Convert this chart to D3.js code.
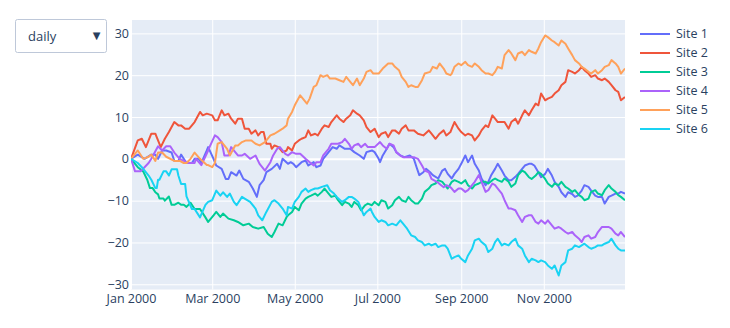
<!DOCTYPE html>
<html>
<head>
<meta charset="utf-8">
<script src="https://cdn.jsdelivr.net/npm/d3@7"></script>
<style>
  html, body { margin: 0; padding: 0; background: #fff; }
  svg { display: block; font-family: "Open Sans", verdana, arial, sans-serif; }
</style>
</head>
<body>
<svg id="chart" width="730" height="328"></svg>
<script>
// Readings for six sites through 2000: each entry is [day of year (0 = Jan 1), value]
const startDate = new Date(Date.UTC(2000, 0, 1));
const endDate = new Date(Date.UTC(2000, 11, 31));

const seriesNames = ["Site 1", "Site 2", "Site 3", "Site 4", "Site 5", "Site 6"];
const seriesColors = ["#636efa", "#EF553B", "#00cc96", "#ab63fa", "#FFA15A", "#19d3f3"];

const site1 = [
  [0,0],[5,1],[10,0],[15,1],[18,1],[20,0],[23,2],[26,2],[30,1.5],[32,-0.5],[35,-0.5],[37,1],[41,-1],[45,-1],[47,0],[50,0],[52,-1],[56,2],
  [57,2.8],[61,0],[63,-1.6],[67,-2.4],[70,-4.8],[72,-4.8],[74,-3.2],[78,-4],[80,-2.8],[83,-4.8],[87,-5.5],[90,-7.1],[93,-9.1],[95,-6.3],[98,-5.1],[100,-3.2],[104,-2.4],[108,-1.2],[110,-2.4],[112,0],[116,-1.2],
  [118,-0.8],[120,-1.2],[122,-2],[126,-0.8],[129,-0.4],[131,-1.6],[135,-0.8],[137,-2],[140,-1.6],[142,0],[146,1.6],[149,2.8],[152,2.4],[154,3.2],[158,2.4],[162,2.4],[165,1.6],[169,0.8],[172,0],[174,1.6],
  [178,2],[180,1.6],[183,0],[184,-0.8],[186,0.8],[189,2.4],[191,3.6],[194,2.8],[196,1.6],[199,0.8],[202,0.4],[206,0.8],[209,0],[211,-2],[213,-3.9],[216,-3.2],[218,-2.4],[221,-3.2],[223,-3.9],[227,-4.7],[230,-2.8],[232,-2.4],[234,-3.6],
  [237,-4.7],[239,-3.6],[242,-2.4],[244,-1.2],[247,0.8],[249,-0.8],[252,0.8],[254,-1.2],[257,-2.8],[259,-4.7],[262,-6.3],[264,-5.5],[266,-4],[269,-2.4],[271,-1.2],[274,-2.8],[276,-4],[279,-5.1],[281,-5.1],[284,-4.3],[286,-3.6],[289,-2.4],[291,-1.6],[294,-1.2],
  [296,-1.2],[298,-1.6],[301,-3.2],[303,-4.4],[306,-3.6],[308,-2.4],[311,-4],[313,-5.5],[316,-6.7],[318,-8],[321,-9.1],[323,-8],[326,-8.4],[328,-9.1],[330,-8.8],[333,-7.6],[335,-6.3],[338,-6.7],[340,-7.6],[343,-8.8],[345,-9.1],[348,-9.1],[350,-10.7],[353,-9.1],[355,-8.8],[358,-8.3],[360,-8.3],[362,-7.9],[365,-8.3]
];
const site2 = [
  [0,0],[5,4.4],[8,4.8],[11,2.8],[15,6],[18,6],[19,5.2],[22,2.8],[25,4.8],[28,6.4],[32,8.8],[35,8],[37,8],[40,7.2],[43,7.2],[45,8],[47,8.8],[51,11.2],[53,10.4],[56,10.8],
  [60,10.4],[62,9.2],[64,9.2],[67,11.6],[69,10.4],[72,10.8],[74,9.6],[77,8.4],[79,9.6],[82,9.6],[84,7.2],[87,7.2],[89,6],[92,6.8],[94,5.6],[96,6.4],[98,6.4],[100,3.6],[103,3.6],[104,2.4],[106,3.2],[109,2.8],[112,1.6],[115,2],
  [116,2.8],[119,2],[121,3.6],[124,4.4],[126,4.8],[129,5.2],[131,6.8],[133,5.6],[136,6],[138,5.6],[141,7.2],[143,8],[146,7.6],[148,8.8],[152,10.4],[154,9.6],[157,8.8],[159,9.6],[162,10.4],[164,11.6],[167,10.8],[169,10.4],[172,9.2],[174,7.6],[177,6.4],
  [180,7.2],[183,5.2],[185,6],[188,6.4],[190,5.2],[193,6.8],[195,6.8],[198,6],[200,7.2],[203,8],[205,6.8],[209,6.8],[212,6],[216,5.6],[220,6.8],[222,6],[225,4.8],[228,6],[231,6.8],[233,5.6],[236,6.4],
  [237,7.2],[239,8.8],[242,7.2],[244,6.4],[247,5.6],[249,6],[252,5.6],[254,4.4],[257,5.6],[259,6.8],[262,8],[264,7.6],[267,10.4],[269,9.6],[271,8.8],[274,8.8],[276,8.8],[279,7.2],[281,8.8],[284,9.6],[286,8.4],[289,10.4],[291,11.6],[294,10.4],
  [296,11.6],[299,13.2],[301,12.8],[303,15.6],[306,14],[308,14.4],[311,14.8],[313,15.6],[316,16.4],[318,17.6],[321,18.4],[323,21.2],[326,20.8],[328,20.4],[331,21.2],[333,22],[335,21.2],[338,20.4],[340,19.6],[343,20],[345,19.2],[348,18.8],[350,19.2],[353,18.4],[355,17.6],[358,16.4],[360,16],[362,14],[365,14.8]
];
const site3 = [
  [0,0],[5,-2],[9,-3],[12,-5],[14,-7],[16,-7],[18,-8],[20,-8.5],[21,-9.5],[24,-9.5],[25,-10],[28,-9],[30,-11],[32,-11],[35,-10.5],[37,-11],[39,-11],[41,-11.5],[44,-10.5],[47,-12],[51,-12],[55,-14],
  [57,-15.1],[61,-13.5],[63,-12.7],[66,-13.9],[68,-13.1],[72,-14.3],[76,-14.7],[79,-15.1],[83,-15.9],[87,-15.5],[90,-16.3],[94,-16.7],[98,-16.3],[101,-17.9],[104,-18.7],[106,-17.5],[109,-15.5],[112,-15.9],[115,-13.9],
  [116,-13.5],[119,-12.7],[121,-11.5],[124,-12.3],[126,-10.7],[129,-9.5],[131,-9.1],[133,-8.8],[136,-8.3],[138,-8.8],[141,-7.9],[143,-7.1],[146,-8.3],[148,-9.1],[151,-8.8],[153,-9.9],[156,-11.1],[158,-10.3],[161,-10.7],[163,-11.5],[165,-10.3],[168,-11.1],[170,-12.3],[173,-11.1],[175,-10.7],
  [178,-11.1],[180,-10.3],[183,-11.1],[185,-9.9],[188,-10.3],[190,-11.9],[193,-11.1],[195,-9.9],[198,-9.1],[200,-9.9],[203,-10.3],[205,-9.1],[207,-9.9],[210,-10.7],[212,-10.7],[215,-9.5],[217,-7.9],[220,-7.1],[222,-6.3],[225,-5.9],[227,-5.1],[230,-5.5],[232,-6.3],[234,-7.1],
  [237,-5.5],[239,-5.1],[242,-5.5],[244,-5.9],[247,-5.1],[249,-6.3],[252,-7.1],[254,-6.3],[257,-5.9],[259,-5.5],[262,-5.5],[264,-5.9],[267,-5.1],[269,-4.7],[271,-5.1],[274,-5.5],[276,-4.7],[279,-5.5],[281,-6.7],[284,-5.9],[286,-3.9],[289,-2.8],[291,-3.2],[294,-4.4],
  [296,-4.8],[299,-4],[301,-3.2],[303,-3.6],[306,-4.8],[308,-5.9],[311,-6.7],[313,-5.9],[316,-6.3],[318,-5.5],[321,-6.7],[323,-7.1],[326,-7.9],[328,-7.5],[331,-8.7],[333,-9.1],[335,-9.9],[338,-9.5],[340,-7.9],[343,-7.5],[345,-8.3],[348,-8.7],[350,-7.5],[353,-6.3],[355,-7.1],[358,-7.9],[360,-8.7],[362,-9.1],[365,-9.9]
];
const site4 = [
  [0,0],[3,-3],[7,-3],[10,-2],[13,-1],[15,0],[20,3],[23,2],[26,3],[29,3],[32,1.5],[36,0],[39,-0.5],[42,-1],[47,-1],[48,0],[52,-1.5],[57,2],
  [58,2.8],[62,5.6],[64,5.2],[67,4],[69,0.8],[72,0.8],[74,2.8],[77,1.6],[79,0.8],[82,0.8],[84,1.2],[88,0],[92,0.8],[95,-1.2],[99,-2.8],[103,-0.8],[105,0.8],[108,2.4],[110,2.8],[114,1.2],
  [116,0.8],[119,1.6],[122,1.2],[125,1.2],[129,0],[132,-0.8],[135,-1.6],[137,-0.8],[140,-0.8],[142,0.8],[146,2.4],[148,3.6],[151,3.6],[153,3.6],[156,4],[158,4.8],[161,3.6],[163,2.4],[165,3.2],[168,3.6],[170,2.8],[173,3.6],[175,2.8],
  [178,2.8],[180,2.8],[184,4],[186,3.2],[189,2.4],[191,3.6],[194,3.2],[196,1.6],[199,0.8],[201,0.4],[205,0.4],[209,0.4],[212,0],[215,-1.6],[217,-2.8],[220,-3.2],[222,-4.8],[226,-5.5],[228,-6],[231,-6.8],[233,-6.3],[236,-6.8],
  [237,-7.1],[239,-7.9],[242,-7.1],[244,-7.1],[247,-7.9],[249,-7.5],[252,-6.3],[254,-5.5],[257,-3.9],[259,-5.5],[262,-7.9],[264,-7.5],[267,-5.9],[269,-6.3],[271,-7.1],[274,-8.3],[276,-9.9],[279,-11.9],[281,-11.9],[284,-12.3],[286,-13.5],[289,-15.1],[291,-13.9],[294,-13.5],
  [296,-13.5],[299,-15.1],[301,-15.5],[303,-14.7],[306,-15.5],[308,-14.7],[311,-15.9],[313,-16.7],[316,-16.3],[318,-16.7],[321,-17.5],[323,-17.9],[326,-17.5],[328,-18.3],[331,-19.1],[333,-19.9],[335,-18.7],[338,-18.3],[340,-19.1],[343,-18.7],[345,-17.5],[348,-16.3],[350,-16.3],[353,-16.3],[355,-16.7],[358,-17.9],[360,-18.3],[362,-17.5],[365,-18.7]
];
const site5 = [
  [0,0],[5,2],[9,0],[13,0.5],[15,1],[18,-0.5],[20,1.5],[23,1.5],[26,0.5],[32,-0.5],[36,-0.5],[39,-1],[41,-1],[44,0],[47,1.5],[51,0],[56,-1.5],
  [57,-1.5],[60,-2],[62,-1],[64,3.6],[67,4],[71,2.4],[73,0.8],[77,3.2],[79,3.2],[82,4],[85,4.4],[89,4.4],[92,3.6],[95,3.2],[99,4],[103,5.6],[106,6],[110,6.8],[112,7.2],[115,8],
  [116,9.6],[119,11.2],[121,12.8],[125,15.2],[127,14.4],[130,13.2],[132,14.4],[135,17.2],[137,17.6],[140,20],[142,19.6],[145,20],[147,19.2],[151,19.2],[154,18.8],[157,18.4],[159,19.6],[162,18.4],[164,17.6],[167,19.2],[169,17.6],[172,19.2],[174,20.8],[177,21.2],
  [179,20.4],[183,20.4],[186,21.6],[190,22.8],[193,22.8],[195,22],[198,21.2],[200,19.6],[203,18.4],[205,17.2],[207,17.6],[210,17.2],[212,17.2],[215,18.8],[217,20.4],[221,20.8],[223,22],[226,21.6],[228,22.8],[231,21.6],[233,20.4],[236,20],
  [237,20.4],[239,22],[242,22.8],[244,22.4],[247,23.2],[249,22.4],[252,22],[254,22.8],[257,22],[259,21.2],[262,20.4],[264,20.4],[267,20],[269,20.8],[271,22],[274,21.6],[276,24.8],[279,26],[281,25.2],[284,23.6],[286,25.2],[289,25.6],[291,24.8],[294,26],
  [296,25.6],[299,25.2],[301,26.4],[303,27.9],[306,29.5],[308,29.1],[311,28.3],[313,27.9],[316,27.1],[318,28.3],[321,27.5],[323,26.4],[326,24.8],[328,23.6],[331,22.8],[333,22],[335,21.6],[338,20.8],[340,20.4],[343,21.2],[345,20.4],[348,21.2],[350,22],[353,22.4],[355,23.6],[358,22.8],[360,22],[362,20.4],[365,21.6]
];
const site6 = [
  [0,0],[5,-1],[8,-2],[13,-4],[15,-5],[18,-7],[19,-7],[20,-5],[21,-5],[24,-3],[26,-3],[28,-4],[30,-2.5],[34,-2.5],[35,-4],[37,-6],[40,-6],[41,-9],[45,-12],[47,-12],[51,-14],[55,-11],
  [57,-10.3],[60,-9.9],[63,-7.6],[66,-8.8],[68,-8],[71,-9.1],[73,-8.3],[76,-10.3],[78,-11.1],[82,-9.1],[84,-9.5],[88,-10.3],[92,-11.9],[94,-13.5],[97,-14.7],[100,-12.7],[104,-10.3],[106,-9.9],[109,-10.7],[112,-11.9],[115,-13.5],
  [116,-11.5],[119,-11.9],[121,-10.3],[124,-9.1],[126,-7.9],[129,-7.1],[131,-7.9],[133,-7.5],[136,-7.1],[138,-7.1],[141,-6.7],[145,-6.3],[147,-7.5],[150,-8.3],[152,-9.1],[156,-10.3],[158,-9.9],[161,-9.1],[163,-9.1],[165,-9.5],[168,-10.3],[172,-13.5],[174,-12.7],[177,-11.9],
  [178,-12.7],[180,-13.9],[183,-15.1],[185,-14.7],[188,-15.1],[190,-15.9],[193,-15.5],[196,-15.9],[199,-14.7],[201,-15.5],[204,-16.7],[207,-18.3],[210,-18.7],[212,-19.5],[215,-19.9],[217,-20.7],[220,-20.3],[222,-20.7],[225,-20.3],[227,-21.1],[230,-20.7],[232,-20.7],[234,-21.5],
  [237,-23.9],[239,-23.5],[242,-23.1],[244,-23.9],[247,-24.7],[249,-23.1],[252,-21.5],[254,-19.5],[257,-19.1],[259,-19.9],[262,-20.7],[264,-22.3],[267,-21.5],[269,-19.9],[271,-19.1],[274,-20.7],[276,-20.3],[279,-20.7],[281,-19.9],[284,-19.1],[286,-20.7],[289,-21.5],[291,-23.1],[294,-24.7],
  [296,-23.9],[299,-24.3],[301,-24.7],[303,-24.3],[306,-24.7],[308,-25.5],[311,-26.3],[313,-25.5],[316,-27.9],[318,-25.5],[321,-24.7],[323,-21.9],[326,-21.5],[328,-20.7],[331,-21.1],[333,-20.7],[335,-20.3],[338,-21.1],[340,-21.5],[343,-21.1],[345,-20.7],[348,-20.7],[350,-20.3],[353,-19.9],[355,-19.1],[358,-20.7],[360,-21.5],[362,-21.9],[365,-21.9]
];

const yTickValues = [-30, -20, -10, 0, 10, 20, 30];
const xTickDates = [0, 2, 4, 6, 8, 10].map(m => new Date(Date.UTC(2000, m, 1)));
const menuLabel = "daily";

// ---- layout ----
const svg = d3.select("#chart");
const plot = { left: 131, right: 625, top: 20, bottom: 289.5 };
const textColor = "#2a3f5f";
const fontStack = '"Open Sans", verdana, arial, sans-serif';
const fontSize = "12.5px";

const x = d3.scaleUtc().domain([startDate, endDate]).range([plot.left, plot.right]);
const y = d3.scaleLinear().domain([-31.25, 33.2]).range([plot.bottom, plot.top]);

const allSeries = [site1, site2, site3, site4, site5, site6];

// plot background
svg.append("rect")
  .attr("x", plot.left).attr("y", plot.top)
  .attr("width", plot.right - plot.left).attr("height", plot.bottom - plot.top)
  .attr("fill", "#E5ECF6");

// vertical grid
svg.append("g")
  .attr("transform", `translate(0,${plot.bottom})`)
  .call(d3.axisBottom(x).tickValues(xTickDates).tickSize(-(plot.bottom - plot.top)).tickFormat(""))
  .call(g => g.select(".domain").remove())
  .call(g => g.selectAll("line").attr("stroke", "#fff").attr("stroke-width", 1));

// horizontal grid (zero line slightly heavier)
svg.append("g")
  .attr("transform", `translate(${plot.left},0)`)
  .call(d3.axisLeft(y).tickValues(yTickValues).tickSize(-(plot.right - plot.left)).tickFormat(""))
  .call(g => g.select(".domain").remove())
  .call(g => g.selectAll("line").attr("stroke", "#fff")
    .attr("stroke-width", d => d === 0 ? 2 : 1));

// x tick labels
svg.append("g")
  .attr("transform", `translate(0,${plot.bottom})`)
  .call(d3.axisBottom(x).tickValues(xTickDates).tickSize(0).tickPadding(5)
    .tickFormat(d3.utcFormat("%b %Y")))
  .call(g => g.select(".domain").remove())
  .call(g => g.selectAll("text").attr("fill", textColor)
    .style("font-size", fontSize).style("font-family", fontStack));

// y tick labels
svg.append("g")
  .attr("transform", `translate(${plot.left},0)`)
  .call(d3.axisLeft(y).tickValues(yTickValues).tickSize(0).tickPadding(2))
  .call(g => g.select(".domain").remove())
  .call(g => g.selectAll("text").attr("fill", textColor)
    .style("font-size", fontSize).style("font-family", fontStack));

// lines
svg.append("clipPath").attr("id", "plot-clip")
  .append("rect")
  .attr("x", plot.left).attr("y", plot.top)
  .attr("width", plot.right - plot.left).attr("height", plot.bottom - plot.top);

const line = d3.line()
  .x(d => x(d3.utcDay.offset(startDate, d[0])))
  .y(d => y(d[1]));

svg.append("g").attr("clip-path", "url(#plot-clip)")
  .selectAll("path")
  .data(allSeries)
  .join("path")
  .attr("d", d => line(d))
  .attr("fill", "none")
  .attr("stroke", (d, i) => seriesColors[i])
  .attr("stroke-width", 2)
  .attr("stroke-linejoin", "round");

// legend
const legend = svg.append("g").attr("transform", "translate(640,34)");
const item = legend.selectAll("g")
  .data(seriesNames)
  .join("g")
  .attr("transform", (d, i) => `translate(0,${i * 19})`);
item.append("line")
  .attr("x1", 0).attr("x2", 30).attr("y1", 0).attr("y2", 0)
  .attr("stroke", (d, i) => seriesColors[i]).attr("stroke-width", 2);
item.append("text")
  .attr("x", 36).attr("y", 0).attr("dy", "0.35em")
  .attr("fill", textColor).style("font-size", fontSize)
  .text(d => d);

// dropdown menu
const menu = svg.append("g").attr("transform", "translate(15.5,19.5)");
menu.append("rect")
  .attr("width", 91).attr("height", 33).attr("rx", 2)
  .attr("fill", "#fff").attr("stroke", "#BEC8D9").attr("stroke-width", 1);
menu.append("text")
  .attr("x", 12.5).attr("y", 16.5).attr("dy", "0.35em")
  .attr("fill", textColor).style("font-size", "13px")
  .text(menuLabel);
menu.append("text")
  .attr("x", 81).attr("y", 16).attr("dy", "0.35em")
  .attr("text-anchor", "middle")
  .attr("fill", textColor).style("font-size", "10px")
  .style("font-family", '"DejaVu Sans", sans-serif')
  .text("▼");
</script>
</body>
</html>
